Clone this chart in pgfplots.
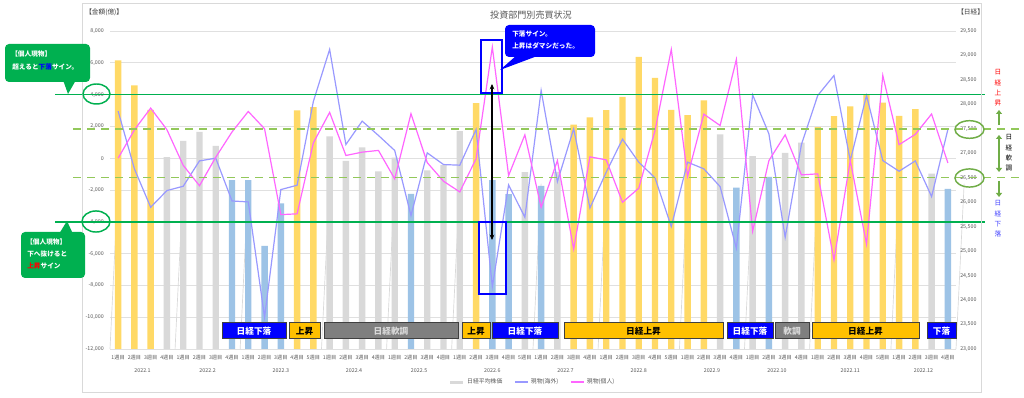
\documentclass[border=0pt]{standalone}
\usepackage{fontspec}
\setmainfont{Noto Sans CJK JP}
\usepackage{pgfplots}
\usepackage{pgfplotstable}
\pgfplotsset{compat=1.18}
\usetikzlibrary{arrows.meta}

\definecolor{barY}{HTML}{FFD966}
\definecolor{barG}{HTML}{D9D9D9}
\definecolor{barB}{HTML}{9DC3E6}
\definecolor{lnOv}{HTML}{9999FF}
\definecolor{lnIn}{HTML}{FF66FF}
\definecolor{grn}{HTML}{00B050}
\definecolor{grnD}{HTML}{92C85A}
\definecolor{grnE}{HTML}{70AD47}
\definecolor{tickc}{HTML}{595959}
\definecolor{gridc}{HTML}{E0E0E0}
\definecolor{boxY}{HTML}{FFC000}
\definecolor{boxG}{HTML}{7F7F7F}
\definecolor{boxB}{HTML}{0000FF}
\definecolor{boxline}{HTML}{404040}
\definecolor{txtB}{HTML}{4040FF}

\newcommand{\fs}[1]{\fontsize{#1}{#1}\selectfont}

% Nikkei weekly average (right axis), split by trend colour
\pgfplotstableread{
x y
0 28900
1 28390
2 27890
11 27875
12 27945
22 28025
28 27585
29 27735
30 27885
31 28155
32 28970
33 28540
34 27890
35 27780
36 28080
43 27535
44 27760
45 27960
46 28205
47 28035
48 27765
49 27905
}\nkUp
\pgfplotstableread{
x y
3 26920
4 27255
5 27440
6 27150
13 27345
14 26845
15 27120
16 26630
17 26910
19 26650
20 26760
21 27455
25 26615
27 26620
37 27385
39 26940
41 27010
42 27220
50 26585
}\nkFlat
\pgfplotstableread{
x y
7 26450
8 26450
9 25110
10 25975
18 26170
23 26450
24 26165
26 26335
38 26300
40 26520
51 26275
}\nkDown
% Spot trading (left axis, 100 million yen)
\pgfplotstableread{
x ov ind
0 2960 0
1 -670 1780
2 -3085 3150
3 -2035 1790
4 -1765 -450
5 -170 -1730
6 0 60
7 -2690 1650
8 -2750 2940
9 -10000 1850
10 -1975 -3550
11 -1700 -3500
12 3570 965
13 6840 2880
14 860 170
15 2330 380
16 1430 490
17 485 -1300
18 -3610 2795
19 335 -280
20 -400 -1450
21 -440 -2120
22 1805 -40
23 -8080 6990
24 -1680 -1090
25 -3715 1470
26 4260 -3085
27 -1470 -150
28 1850 -5710
29 -3130 85
30 -880 -105
31 1195 -2770
32 -250 -1890
33 -1240 1740
34 -4300 6840
35 -250 -1135
36 -670 2770
37 -1785 2055
38 -5665 6210
39 3985 -4590
40 1530 -150
41 -4975 1470
42 860 -1050
43 3945 -985
44 5200 -6400
45 -150 -150
46 3945 -5390
47 -150 5205
48 -820 850
49 -170 1500
50 -2415 2780
51 1805 -300
}\flows

\pgfplotsset{
  basestyle/.style={
    at={(82.5pt,36.75pt)}, anchor=south west, scale only axis,
    width=634.5pt, height=238.5pt, xmin=-0.5, xmax=51.5,
    axis line style={draw=none}, major tick length=0pt,
    /pgf/number format/assume math mode=true,
    clip mode=individual,
  },
}
\newcommand{\mlab}[2]{\node[font=\fs{4}, text=tickc] at ([yshift=-16.5pt]axis cs:#1,-12000) {#2};}
\newcommand{\labbox}[5]{%
  \draw[fill=#3, draw=boxline, line width=0.75pt] (#1,323) rectangle (#2,339);
  \node[text=#4, font=\fs{6.5}\bfseries, inner sep=0pt] at ({(#1+#2)/2},331) {#5};}

\begin{document}
\begin{tikzpicture}
\path[use as bounding box, fill=white] (0,0) rectangle (768pt,298.5pt);

% ---- base axis: grid, left ticks, category labels
\begin{axis}[basestyle,
  ymin=-12000, ymax=8000, ytick={-12000,-10000,...,8000},
  ymajorgrids, grid style={gridc, line width=0.5pt},
  scaled y ticks=false,
  yticklabel style={font=\fs{4}, text=tickc, anchor=east, inner sep=0pt, xshift=-4.5pt,
    /pgf/number format/.cd, fixed, 1000 sep={,}},
  xtick={0,...,51},
  xticklabels={1週目,2週目,3週目,4週目,
    1週目,2週目,3週目,4週目,
    1週目,2週目,3週目,4週目,5週目,
    1週目,2週目,3週目,4週目,
    1週目,2週目,3週目,4週目,
    1週目,2週目,3週目,4週目,5週目,
    1週目,2週目,3週目,4週目,
    1週目,2週目,3週目,4週目,5週目,
    1週目,2週目,3週目,4週目,
    1週目,2週目,3週目,4週目,
    1週目,2週目,3週目,4週目,5週目,
    1週目,2週目,3週目,4週目},
  xticklabel style={font=\fs{3.9}, text=tickc, anchor=center, inner sep=0pt, yshift=-6.3pt},
]
\pgfplotsinvokeforeach{-0.5,3.5,7.5,12.5,16.5,20.5,25.5,29.5,34.5,38.5,42.5,47.5,51.5}{
  \draw[barG, line width=0.5pt] (axis cs:#1,-12000) -- ++(0,-19pt);
}
\mlab{1.5}{2022.1}
\mlab{5.5}{2022.2}
\mlab{10}{2022.3}
\mlab{14.5}{2022.4}
\mlab{18.5}{2022.5}
\mlab{23}{2022.6}
\mlab{27.5}{2022.7}
\mlab{32}{2022.8}
\mlab{36.5}{2022.9}
\mlab{40.5}{2022.10}
\mlab{45}{2022.11}
\mlab{49.5}{2022.12}
\end{axis}

% ---- bar axis: Nikkei (right scale)
\begin{axis}[basestyle, clip mode=global,
  ymin=23000, ymax=29500, ytick={23000,23500,...,29500},
  yticklabel pos=right, scaled y ticks=false, xtick=\empty,
  yticklabel style={font=\fs{4}, text=tickc, anchor=west, inner sep=0pt, xshift=3pt,
    /pgf/number format/.cd, fixed, 1000 sep={,}},
]
\addplot[ybar, bar width=4.8pt, bar shift=0pt, fill=barY, draw=none] table[x=x,y=y] {\nkUp};
\addplot[ybar, bar width=4.8pt, bar shift=0pt, fill=barG, draw=none] table[x=x,y=y] {\nkFlat};
\addplot[ybar, bar width=4.8pt, bar shift=0pt, fill=barB, draw=none] table[x=x,y=y] {\nkDown};
\end{axis}

% ---- line axis: spot trading (left scale)
\begin{axis}[basestyle,
  ymin=-12000, ymax=8000, xtick=\empty, ytick=\empty,
  legend style={at={(0.5,-0.104)}, anchor=center, legend columns=3, draw=none, fill=none,
    font=\fs{4.4}, text=tickc, inner sep=0pt,
    /tikz/every even column/.append style={column sep=7pt}},
  legend image code/.code={\draw[#1] (0pt,0pt) -- (9.5pt,0pt);},
]
\addlegendimage{barG, line width=2.2pt}
\addlegendentry{日経平均株価}
\addplot[lnOv, line width=0.9pt] table[x=x,y=ov] {\flows};
\addlegendentry{現物(海外)}
\addplot[lnIn, line width=0.9pt] table[x=x,y=ind] {\flows};
\addlegendentry{現物(個人)}
% reference lines
\draw[grn, line width=1.1pt] (axis cs:-3.88,4000) -- (axis cs:53.28,4000);
\draw[grn, line width=1.1pt] (axis cs:-3.88,-4000) -- (axis cs:53.28,-4000);
\draw[grnD, line width=1pt, dash pattern=on 6pt off 4.5pt] (axis cs:-2.77,1846.15) -- (axis cs:55.6,1846.15);
\draw[grnD, line width=1pt, dash pattern=on 6pt off 4.5pt] (axis cs:-2.77,-1230.77) -- (axis cs:55.6,-1230.77);
\end{axis}

% ---- annotations in pixel coordinates
\begin{scope}[x=0.75pt, y=-0.75pt, yshift=298.5pt]
\draw[barG, line width=0.6pt] (82,3) rectangle (981,392);
\node[font=\fs{6.8}, text=tickc] at (531,15) {投資部門別売買状況};
\node[font=\fs{5}, text=boxline, anchor=west, inner sep=0pt] at (85,12) {【金額(億)】};
\node[font=\fs{5}, text=boxline, anchor=west, inner sep=0pt] at (957,12) {【日経】};

% ellipses
\draw[grn, line width=1.1pt] (96.5,94) ellipse [x radius=10.1pt, y radius=7.5pt];
\draw[grn, line width=1.1pt] (96,221.5) ellipse [x radius=10.5pt, y radius=7.9pt];
\draw[grnE, line width=1.1pt] (969.5,129.5) ellipse [x radius=10.9pt, y radius=6.6pt];
\draw[grnE, line width=1.1pt] (969.5,178) ellipse [x radius=10.9pt, y radius=6.8pt];

% left callouts
\fill[grn, rounded corners=3pt] (5,44) rectangle (90,82);
\fill[grn] (63,80) -- (68,94) -- (76,80) -- cycle;
\node[anchor=west, inner sep=0pt, text=white, font=\fs{5}\bfseries] at (11,54) {【個人現物】};
\node[anchor=west, inner sep=0pt, text=white, font=\fs{5}\bfseries] at (12,67) {超えると\textcolor{boxB}{下落}サイン。};
\fill[grn, rounded corners=3pt] (21,232) rectangle (85,278);
\fill[grn] (59,234) -- (67,221) -- (73,234) -- cycle;
\node[anchor=west, inner sep=0pt, text=white, font=\fs{5}\bfseries] at (26,242) {【個人現物】};
\node[anchor=west, inner sep=0pt, text=white, font=\fs{5}\bfseries] at (27,254) {下へ抜けると};
\node[anchor=west, inner sep=0pt, text=white, font=\fs{5}\bfseries] at (27,266) {\textcolor{red}{上昇}サイン};

% blue callout and boxes
\fill[boxB, rounded corners=3pt] (505,25) rectangle (595,57);
\fill[boxB] (517,55) -- (500,70) -- (540,55) -- cycle;
\node[anchor=west, inner sep=0pt, text=white, font=\fs{5}\bfseries] at (512,34) {下落サイン。};
\node[anchor=west, inner sep=0pt, text=white, font=\fs{5}\bfseries] at (512,46) {上昇はダマシだった。};
\draw[boxB, line width=1.1pt] (481,40) rectangle (502,93);
\draw[boxB, line width=1.1pt] (479,222) rectangle (506,294);
\draw[black, line width=1.1pt, {Stealth[length=4pt,width=3.5pt]}-{Stealth[length=4pt,width=3.5pt]}] (492,84) -- (492,240);

% right side trend legend
\node[font=\fontsize{5}{7.7}\selectfont, text=red, align=center, inner sep=0pt] at (998,88) {日\\経\\上\\昇};
\draw[grnE, line width=1.5pt, -{Triangle[length=3pt,width=4.5pt]}] (999,125) -- (999,110);
\draw[grnE, line width=1.5pt, {Triangle[length=3pt,width=4.5pt]}-{Triangle[length=3pt,width=4.5pt]}] (999,135) -- (999,172);
\node[font=\fontsize{5}{7.7}\selectfont, text=black, align=center, inner sep=0pt] at (1009,153) {日\\経\\軟\\調};
\draw[grnE, line width=1.5pt, -{Triangle[length=3pt,width=4.5pt]}] (999,181) -- (999,197);
\node[font=\fontsize{5}{7.7}\selectfont, text=txtB, align=center, inner sep=0pt] at (998,219) {日\\経\\下\\落};

% trend label boxes
\labbox{222}{286}{boxB}{white}{日経下落}
\labbox{289}{320}{boxY}{black}{上昇}
\labbox{324}{458}{boxG}{white!85!black}{日経軟調}
\labbox{462}{490}{boxY}{black}{上昇}
\labbox{492}{558}{boxB}{white}{日経下落}
\labbox{564}{723}{boxY}{black}{日経上昇}
\labbox{727}{773}{boxB}{white}{日経下落}
\labbox{775}{809}{boxG}{white!85!black}{軟調}
\labbox{812}{919}{boxY}{black}{日経上昇}
\labbox{927}{956}{boxB}{white}{下落}
\end{scope}
\end{tikzpicture}
\end{document}
